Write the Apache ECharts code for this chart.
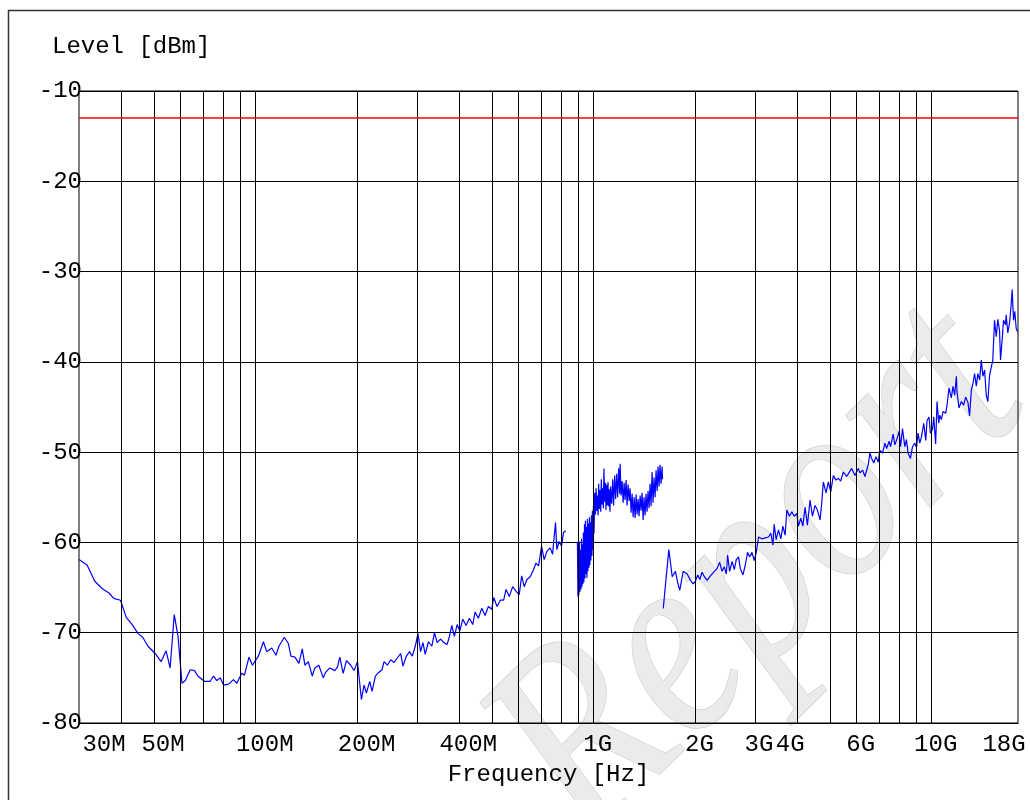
<!DOCTYPE html>
<html><head><meta charset="utf-8">
<script src="https://cdn.jsdelivr.net/npm/echarts@6/dist/echarts.min.js"></script>
<style>html,body{margin:0;padding:0;background:#fff}#c{width:1030px;height:800px}</style>
</head><body><div id="c"></div>
<script>
// Frequency in MHz, level in dBm
const seg1 = [[30,-61.9],[31.7,-62.5],[33.4,-64.3],[35.1,-65.1],[36.8,-65.6],[38.0,-66.2],[39.8,-66.4],[41.4,-68.3],[43.1,-69.1],[44.9,-70.1],[46.3,-70.5],[48.0,-71.5],[50.4,-72.3],[52.5,-73.2],[54.3,-72.0],[55.8,-73.9],[57.4,-68.0],[58.9,-70.4],[60.5,-75.6],[61.9,-75.3],[64.0,-74.1],[65.9,-74.2],[67.4,-74.8],[70.6,-75.4],[73.3,-75.4],[75.0,-74.8],[76.7,-75.3],[78.5,-75.0],[80.3,-75.8],[83.1,-75.7],[85.9,-75.2],[87.9,-75.6],[90.9,-74.5],[92.6,-74.7],[95.5,-72.7],[97.8,-73.6],[101.8,-72.6],[105.4,-71.0],[107.8,-72.1],[111.5,-71.7],[114.8,-72.5],[117.1,-71.5],[121.5,-70.5],[124.9,-71.2],[127.1,-72.6],[130.6,-72.7],[134.2,-73.4],[137.3,-71.8],[139.8,-73.6],[143.1,-73.2],[147.0,-74.8],[149.6,-73.9],[153.7,-73.6],[158.4,-75.0],[160.9,-74.4],[165.6,-73.9],[171.3,-74.2],[174.5,-73.8],[177.3,-72.7],[181.4,-74.5],[185.5,-73.1],[191.0,-73.6],[195.5,-74.2],[200.0,-73.2],[205.4,-77.4],[209.2,-75.8],[212.5,-76.7],[217.4,-75.4],[220.9,-76.5],[225.9,-74.8],[231.1,-74.4],[236.4,-74.1],[239.7,-73.2],[245.2,-73.6],[250.7,-73.0],[256.6,-73.3],[262.4,-72.8],[268.3,-72.3],[272.7,-73.7],[278.9,-72.6],[285.2,-72.1],[290.5,-72.6],[296.5,-71.5],[302.0,-70.1],[307.4,-72.1],[312.5,-71.1],[317.2,-72.4],[324.4,-71.0],[332.0,-71.5],[337.9,-70.0],[344.2,-71.1],[352.0,-70.7],[360.2,-71.1],[368.4,-71.3],[374.2,-70.4],[380.3,-69.2],[387.1,-70.4],[394.3,-69.1],[401.6,-69.8],[409.9,-68.5],[419.2,-69.2],[428.7,-68.4],[438.7,-69.1],[445.7,-67.7],[455.7,-68.4],[466.4,-67.3],[477.0,-68.1],[487.8,-67.1],[499.2,-67.4],[506.0,-66.1],[517.5,-67.1],[529.2,-66.4],[541.5,-66.4],[550.1,-65.2],[562.6,-66.0],[575.7,-64.9],[588.8,-65.4],[602.1,-65.8],[612.0,-63.7],[622.9,-64.9],[634.5,-64.1],[648.8,-63.8],[663.9,-63.0],[674.4,-62.3],[686.9,-62.6],[701.0,-60.4],[713.5,-61.9],[726.8,-61.0],[743.2,-60.6],[755.5,-61.3],[770.9,-57.8],[777.8,-60.8],[789.9,-59.9],[802.9,-60.4],[813.9,-58.9],[826.7,-58.7]];

const seg2 = [[895,-60.0],[898,-66.0],[901,-60.5],[904,-65.8],[907,-59.9],[910,-65.5],[913,-60.8],[917,-65.2],[920,-59.6],[923,-64.9],[926,-60.2],[929,-64.6],[932,-58.9],[935,-64.4],[939,-58.0],[942,-64.0],[945,-57.6],[948,-63.5],[952,-58.3],[955,-63.9],[958,-57.4],[961,-63.2],[965,-57.9],[968,-62.8],[971,-57.2],[974,-62.5],[978,-57.8],[981,-62.0],[984,-57.0],[988,-61.5],[991,-56.5],[995,-60.8],[998,-56.0],[1002,-59.0],[1007,-54.5],[1012,-56.9],[1016,-54.0],[1021,-56.5],[1025,-54.8],[1030,-57.0],[1034,-53.5],[1039,-56.3],[1044,-54.2],[1049,-56.6],[1053,-53.0],[1058,-55.8],[1063,-54.0],[1068,-56.2],[1072,-51.8],[1078,-55.5],[1083,-53.4],[1087,-56.4],[1092,-53.6],[1097,-55.9],[1102,-53.3],[1107,-56.0],[1112,-54.1],[1117,-56.6],[1122,-53.8],[1130,-55.7],[1138,-53.0],[1145,-55.9],[1153,-52.6],[1161,-55.2],[1169,-52.4],[1177,-55.0],[1185,-51.8],[1193,-54.6],[1197,-51.3],[1205,-54.8],[1213,-53.2],[1222,-55.6],[1230,-53.4],[1238,-55.3],[1247,-53.1],[1255,-55.9],[1264,-53.6],[1273,-55.4],[1281,-54.0],[1290,-56.7],[1299,-54.6],[1308,-57.2],[1317,-55.0],[1326,-57.3],[1335,-54.7],[1344,-56.9],[1353,-55.2],[1362,-57.1],[1372,-54.8],[1381,-56.5],[1390,-54.5],[1400,-57.5],[1409,-55.0],[1419,-57.0],[1428,-54.6],[1438,-56.6],[1448,-54.3],[1458,-56.2],[1468,-53.5],[1478,-56.0],[1488,-52.2],[1498,-55.6],[1508,-52.8],[1519,-55.0],[1529,-52.0],[1540,-54.3],[1550,-51.6],[1561,-53.8],[1571,-51.4],[1582,-53.5],[1593,-51.6],[1598,-53.0]];

const seg3 = [[1606,-67.3],[1668,-60.8],[1707,-63.8],[1745,-63.2],[1773,-64.5],[1797,-65.3],[1839,-63.2],[1890,-63.5],[1933,-64.2],[1969,-64.6],[1999,-64.3],[2031,-63.6],[2059,-64.1],[2092,-63.3],[2125,-63.8],[2165,-64.2],[2214,-63.7],[2275,-63.2],[2317,-62.9],[2358,-62.2],[2397,-63.2],[2435,-62.7],[2468,-63.5],[2490,-61.4],[2524,-63.2],[2566,-62.1],[2606,-63.0],[2641,-61.9],[2683,-61.6],[2714,-62.9],[2764,-63.6],[2808,-62.5],[2852,-61.1],[2891,-61.6],[2939,-61.1],[2985,-62.0],[3026,-61.1],[3074,-59.4],[3145,-59.6],[3216,-59.5],[3289,-59.4],[3343,-59.0],[3389,-60.3],[3419,-58.0],[3466,-59.7],[3520,-58.6],[3578,-59.6],[3627,-58.2],[3684,-59.2],[3727,-56.4],[3794,-57.1],[3856,-56.6],[3917,-57.1],[3990,-56.8],[4033,-58.2],[4099,-57.3],[4156,-58.2],[4221,-56.1],[4287,-58.1],[4366,-55.3],[4436,-57.1],[4517,-55.9],[4588,-56.4],[4673,-57.5],[4727,-55.6],[4779,-53.3],[4868,-54.5],[4945,-53.3],[5026,-54.4],[5115,-52.6],[5210,-53.1],[5292,-52.9],[5379,-53.2],[5475,-52.2],[5603,-52.7],[5797,-51.8],[5929,-52.6],[6063,-51.8],[6133,-52.3],[6247,-52.0],[6345,-52.7],[6488,-51.4],[6563,-50.1],[6639,-50.7],[6744,-51.2],[6836,-50.5],[6944,-51.1],[7024,-49.8],[7155,-50.1],[7268,-49.0],[7352,-49.6],[7483,-48.8],[7555,-49.4],[7688,-48.0],[7778,-49.2],[7899,-48.5],[8007,-47.7],[8085,-49.4],[8195,-47.4],[8325,-49.4],[8421,-48.6],[8513,-50.1],[8653,-50.7],[8772,-49.4],[8911,-49.0],[9014,-49.5],[9112,-47.9],[9218,-49.0],[9325,-48.3],[9472,-46.8],[9601,-48.7],[9685,-46.5],[9818,-46.1],[9913,-47.9],[10050,-47.5],[10140,-46.1],[10270,-49.1],[10370,-44.4],[10490,-46.8],[10560,-45.9],[10680,-46.4],[10800,-45.5],[11000,-45.7],[11100,-44.8],[11250,-42.9],[11430,-44.0],[11560,-42.7],[11690,-43.7],[11830,-41.6],[11880,-43.3],[12040,-45.1],[12240,-44.4],[12430,-44.8],[12600,-43.9],[12800,-44.5],[12940,-46.0],[13100,-43.1],[13240,-42.4],[13390,-41.3],[13550,-42.7],[13690,-41.3],[13860,-42.0],[14020,-39.8],[14170,-41.6],[14340,-40.9],[14500,-43.7],[14660,-44.4],[14830,-41.5],[15000,-41.5],[15160,-39.8],[15340,-35.4],[15520,-37.2],[15690,-35.3],[15870,-36.5],[15980,-39.8],[16170,-37.4],[16310,-35.4],[16530,-35.9],[16610,-34.8],[16790,-36.8],[16990,-35.7],[17180,-33.7],[17300,-32.0],[17460,-35.4],[17610,-34.4],[17780,-36.3],[17970,-36.7]];

const limitLevel = -13;
const gridFreqs = [40,50,60,70,80,90,100,200,300,400,500,600,700,800,900,1000,2000,3000,4000,5000,6000,7000,8000,9000,10000];
const xTickValues = [30,50,100,200,400,1000,2000,3000,4000,6000,10000,18000];
const xTickLabels = ['30M','50M','100M','200M','400M','1G','2G','3G','4G','6G','10G','18G'];
const yMin = -80, yMax = -10, yStep = 10;

const FONT = '"Liberation Mono", "DejaVu Sans Mono", monospace';
const chart = echarts.init(document.getElementById('c'), null, {renderer: 'canvas'});

const labelRich = {};
const shifts = {'30M':[0,0,0,50],'4G':[0,14,0,0],'18G':[0,28,0,0]};
xTickLabels.forEach((t, i) => {
  const pad = shifts[t] || (t.endsWith('M') ? [0,0,0,18] : [0,0,0,8]);
  labelRich['s' + i] = {fontFamily: FONT, fontSize: 24, color: '#000', padding: pad};
});

const lineSeries = (data, extra) => Object.assign({
  type: 'line', data: data, showSymbol: false, symbol: 'none', animation: false,
  lineStyle: {color: '#0000ff', width: 1.2}, itemStyle: {color: '#0000ff'}, z: 3
}, extra || {});

chart.setOption({
  animation: false,
  backgroundColor: '#fff',
  title: {text: 'Level [dBm]', left: 52, top: 35, padding: 0,
    textStyle: {fontFamily: FONT, fontSize: 24, fontWeight: 'normal', color: '#000'}},
  grid: {left: 79, top: 91, right: 12, bottom: 77, show: true, borderColor: '#000', borderWidth: 1},
  graphic: [
    {type: 'rect', z: 1, silent: true, shape: {x: 8.5, y: 10.5, width: 1040, height: 820},
      style: {fill: 'none', stroke: '#333', lineWidth: 1.5}},
    {type: 'text', z: -10, silent: true, x: 760, y: 575, rotation: 0.78, scaleX: 0.85,
      style: {text: 'Report', font: 'italic 270px "Liberation Serif"', fill: '#ebebeb', stroke: '#d2d2d2', lineWidth: 1.5,
        textAlign: 'center', textVerticalAlign: 'middle'}}
  ],
  xAxis: {
    type: 'log', logBase: 10, min: 30, max: 18000,
    name: 'Frequency [Hz]', nameLocation: 'middle', nameGap: 40,
    nameTextStyle: {fontFamily: FONT, fontSize: 24, color: '#000'},
    axisLine: {show: true, lineStyle: {color: '#000', width: 1}},
    axisTick: {show: false},
    splitLine: {show: false},
    minorTick: {show: false}, minorSplitLine: {show: false},
    axisLabel: {
      customValues: xTickValues, margin: 10, fontFamily: FONT, fontSize: 24, color: '#000',
      formatter: function (v) {
        let idx = -1;
        xTickValues.forEach((t, i) => { if (Math.abs(t - v) / t < 1e-3) idx = i; });
        return idx < 0 ? '' : '{s' + idx + '|' + xTickLabels[idx] + '}';
      },
      rich: labelRich
    }
  },
  yAxis: {
    type: 'value', min: yMin, max: yMax, interval: yStep,
    axisLine: {show: false}, axisTick: {show: false},
    splitLine: {show: true, lineStyle: {color: '#000', width: 1}},
    axisLabel: {margin: -3, fontFamily: FONT, fontSize: 24, color: '#000'}
  },
  series: [
    lineSeries(seg1, {
      markLine: {silent: true, symbol: ['none', 'none'], animation: false, label: {show: false},
        lineStyle: {color: '#000', width: 1, type: 'solid'},
        data: gridFreqs.map(f => ({xAxis: f}))}
    }),
    lineSeries(seg2),
    lineSeries(seg3, {
      markLine: {silent: true, symbol: ['none', 'none'], animation: false, label: {show: false},
        lineStyle: {color: '#ff0000', width: 1.5, type: 'solid'},
        data: [{yAxis: limitLevel}]}
    })
  ]
});
</script></body></html>
